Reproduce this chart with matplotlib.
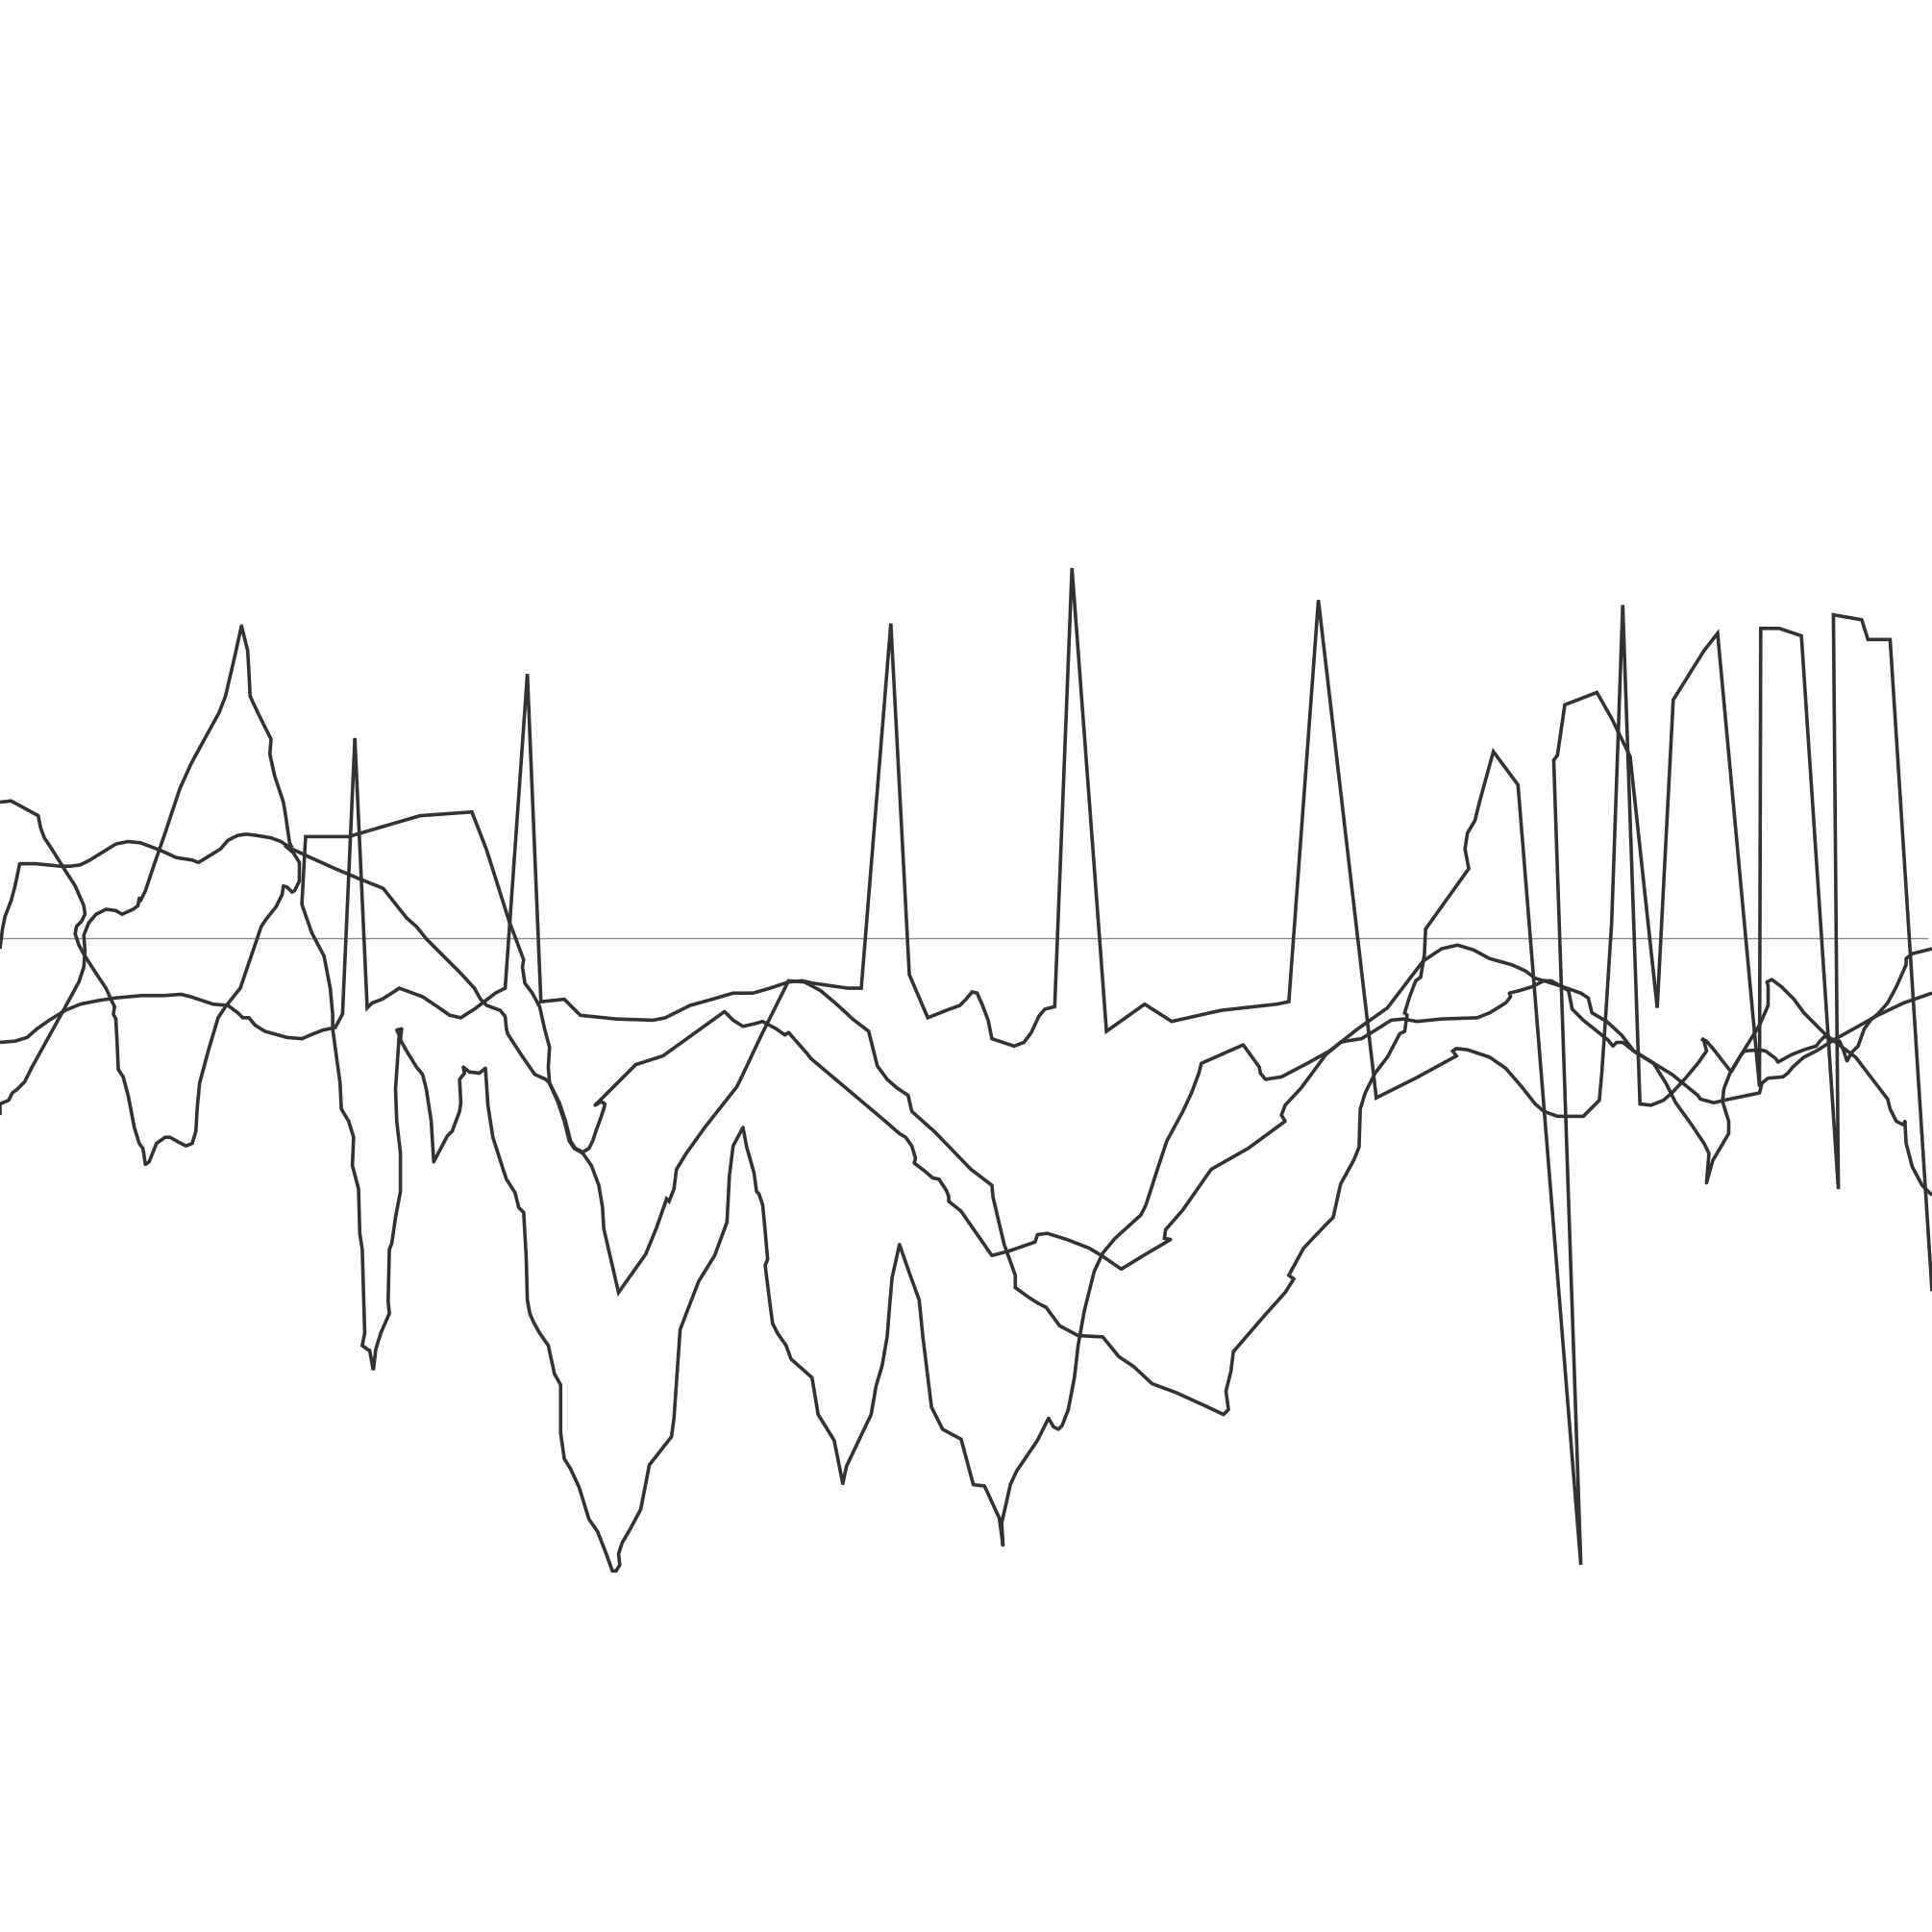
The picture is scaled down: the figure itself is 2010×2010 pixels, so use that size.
import numpy as np
import matplotlib.pyplot as plt

# series values: t = position along x, v = level above the baseline
p_t = [0, 12, 22, 30, 40, 53, 65, 80, 93, 115, 133, 147, 155, 173, 185, 193, 197, 202, 207, 215, 233, 245, 252, 262, 272, 278,
       288, 298, 302, 310, 318, 324, 335, 343, 355, 365, 374, 385, 393, 402, 410, 428, 439, 458, 471, 500, 530, 540, 548, 560,
       578, 595, 611, 625, 640, 651, 660, 688, 699, 723, 738, 753, 768, 779, 784, 789, 793, 797, 802, 805, 814, 823, 831, 837,
       843, 848, 856, 870, 898, 929, 951, 991, 1036, 1046, 1070, 1117, 1125, 1149, 1182, 1179, 1182, 1191, 1209, 1222, 1235,
       1246, 1253, 1264, 1285, 1298, 1300, 1303, 1308, 1317, 1331, 1340, 1350, 1357, 1368, 1378, 1385, 1383, 1381, 1385, 1391, 1405]
p_v = [-85, -84, -81, -74, -67, -59, -54, -51, -49, -47, -47, -46, -48, -54, -55, -61, -65, -65, -71, -76, -81, -82, -79, -75, -73, -62,
       162, -57, -53, -50, -45, -41, -45, -48, -56, -63, -65, -58, -52, -45, -41, 214, -52, -50, -63, -66, -67, -65, -61, -55,
       -50, -45, -45, -41, -36, -35, -37, -41, -41, 255, -30, -65, -59, -55, -50, -44, -45, -54, -67, -82, -85, -88, -85, -77,
       -64, -58, -56, 300, -76, -54, -68, -59, -54, -52, 274, -130, -126, -114, -96, -92, -90, -91, -97, -106, -121,
       -135, -141, -145, -145, -132, -110, -66, 12, 270, -135, -136, -132, -126, -114, -102, -92, -84, -82, -84, -91, -109]

a_t = [0, 9, 31, 33, 36, 42, 52, 61, 68, 69, 66, 62, 61, 64, 69, 78, 86, 91, 93, 92, 94, 95, 96, 100, 104, 109, 113, 116, 118,
       121, 127, 134, 138, 145, 151, 156, 159, 160, 162, 169, 177, 183, 195, 212, 216, 224, 229, 230, 233, 237, 239, 243, 243, 238, 231]
a_v = [110, 111, 99, 89, 81, 72, 56, 42, 26, 19, 13, 9, 3, -6, -15, -29, -41, -52, -56, -62, -66, -84, -107, -113, -128, -154, -167,
       -171, -184, -182, -167, -162, -162, -166, -169, -167, -157, -139, -118, -92, -65, -56, -41, 9, 15, 25, 35, 42, 41, 37, 38, 46, 61, 69, 75]

b_t = [0, 0, 7, 10, 14, 20, 26, 36, 52, 64, 68, 69, 68, 72, 78, 86, 94, 99, 108, 112, 113, 114, 118, 125, 133, 140, 146, 155, 167,
       178, 183, 190, 196, 201, 202, 203, 210, 220, 219, 223, 230, 232, 235, 237]
b_v = [-144, -135, -132, -126, -123, -117, -105, -87, -58, -36, -24, -11, 2, 12, 19, 23, 22, 19, 23, 26, 32, 30, 38, 59, 82, 103, 121,
       141, 163, 183, 196, 226, 253, 233, 216, 196, 181, 161, 149, 131, 110, 98, 77, 73]

c_t = [0, 1, 2, 4, 9, 12, 16, 29, 39, 49, 57, 65, 73, 86, 94, 104, 114, 130, 143, 156, 161, 166, 179, 185, 193, 200, 208, 220, 228,
       237, 252, 272, 291, 311, 330, 338, 346, 359, 374, 385, 390, 395, 406, 410, 411, 412, 423, 434, 443, 446, 454, 459, 463, 467,
       473, 478, 481, 484, 487, 490, 491, 488, 483, 516, 538, 588, 595, 603, 612, 619, 630, 637, 640, 655, 658, 715, 730, 735, 740,
       743, 742, 750, 757, 762, 768, 770, 770, 780, 805, 820, 840, 842, 850, 866, 884, 894, 910, 928, 950, 945, 946, 960, 983, 1013,
       1043, 1040, 1043, 1056, 1076, 1088, 1102, 1126, 1155, 1170, 1183, 1196, 1209, 1227, 1238, 1246, 1253, 1266, 1273, 1276, 1285,
       1305, 1309, 1312, 1317, 1326, 1339, 1357, 1378, 1380, 1391, 1399, 1428, 1430, 1435, 1447, 1451, 1455, 1464, 1474, 1482, 1490,
       1508, 1524, 1545, 1568]
c_v = [-9, -1, 7, 17, 30, 41, 60, 60, 59, 58, 58, 59, 63, 71, 76, 78, 77, 71, 65, 63, 61, 64, 72, 79, 83, 84, 83, 81, 78,
       72, 65, 56, 48, 40, 16, 9, -1, -14, -29, -41, -50, -55, -59, -64, -74, -78, -95, -111, -115, -118, -134, -149, -165, -171,
       -174, -171, -165, -156, -148, -139, -135, -133, -136, -103, -96, -60, -67, -72, -70, -68, -74, -79, -77, -94, -98, -146, -159, -162, -169,
       -179, -183, -189, -195, -196, -205, -210, -214, -222, -258, -254, -247, -241, -240, -245, -252, -258, -269, -258, -245, -244, -237, -221, -188, -171,
       -149, -144, -136, -122, -95, -85, -74, -57, -19, -9, -6, -10, -17, -22, -27, -33, -35, -39, -43, -58, -67,
       -83, -88, -85, -85, -92, -100, -111, -128, -131, -134, -132, -126, -118, -114, -113, -110, -105, -97, -92, -87, -82,
       -72, -63, -53, -45]

d_t = [303, 300, 298, 294, 296, 294, 292, 291, 286, 287, 283, 277, 276, 270, 270, 268, 263, 253, 245, 248, 283, 341, 383, 395, 413,
       425, 424, 426, 432, 438, 442, 446, 445, 446, 453, 458, 462, 466, 473, 480, 486, 489, 490, 502, 524, 533, 541, 543, 547, 549,
       557, 572, 598, 601, 618, 640, 653, 666, 679, 692, 705, 712, 720, 728, 737, 740, 759, 788, 805, 806, 815, 824, 824, 835, 843,
       849, 860, 875, 895, 908, 920, 935, 954, 976, 993, 997, 995, 999, 1001, 1026, 1043, 1050, 1046, 1058, 1075, 1082, 1088, 1099,
       1103, 1104, 1108, 1116, 1126, 1136, 1140, 1142, 1140, 1144, 1149, 1153, 1156, 1157, 1192, 1189, 1191, 1197, 1201, 1212, 1232,
       1283, 1261, 1264, 1270, 1296, 1308, 1323, 1345, 1358, 1383, 1394, 1428, 1429, 1444, 1462, 1492, 1488, 1511, 1516, 1534, 1568]
d_v = [-351, -335, -334, -331, -321, -253, -240, -204, -185, -162, -149, -139, -118, -74, -62, -41, -15, 4, 27, 82, 82, 99, 102, 71, 14,
       -18, -24, -37, -45, -56, -74, -89, -105, -118, -134, -149, -165, -171, -175, -185, -201, -219, -236, -288, -257, -235, -212, -214, -204, -188,
       -175, -154, -121, -115, -79, -35, -36, -43, -54, -66, -76, -104, -115, -122, -128, -141, -158, -188, -201, -211, -249, -274, -284, -292, -297,
       -300, -315, -323, -324, -340, -348, -362, -369, -379, -387, -383, -368, -352, -336, -307, -288, -277, -274, -252, -234, -227, -200, -180,
       -170, -139, -126, -110, -97, -78, -76, -63, -61, -48, -35, -32, -14, 7, 56, 72, 85, 95, 111, 151, 124,
       -509, 144, 148, 189, 199, 178, 147, -57, 193, 233, 247, -121, 251, 251, 245, -204, 262, 258, 242, 242, -287]

e_t = [303, 305, 309, 316, 315, 316, 318, 321, 325, 325, 322, 321, 324, 322, 326, 325, 330, 338, 343, 346, 350, 352, 363, 367, 373,
       374, 373, 377, 376, 381, 389, 394, 396, 400, 408, 411, 418, 421, 425, 426, 427, 428, 430, 433, 438, 445, 450, 455, 455, 458,
       463, 470, 478, 485, 492, 497, 500, 503, 502, 505, 512, 520, 527, 545, 547, 552, 567, 580, 590, 592, 595, 603, 606, 612, 614,
       616, 619, 621, 623, 621, 624, 627, 631, 638, 642, 659, 664, 677, 684, 687, 697, 707, 711, 716, 720, 722, 724, 730, 738, 746,
       749, 756, 765, 780, 790, 799, 811, 814, 813, 820, 825, 842, 851, 855, 859, 862, 867, 872, 875, 880, 888, 895, 905, 915, 926,
       930, 941, 947, 960, 967, 973, 975, 1009, 1022, 1023, 1027, 1040, 1061, 1079, 1088, 1092, 1105, 1118, 1129, 1139, 1150, 1170,
       1199, 1209, 1222, 1226, 1225, 1233, 1243, 1253, 1259, 1266, 1283, 1289, 1292, 1304, 1316, 1326, 1342, 1352, 1360, 1373, 1383,
       1387, 1385, 1390, 1403, 1403, 1398, 1399, 1404, 1415, 1428, 1435, 1435, 1434, 1438, 1446, 1456, 1464, 1482, 1498, 1506, 1532,
       1534, 1539, 1545, 1546, 1547, 1552, 1560, 1568]
e_v = [-351, -334, -321, -305, -295, -253, -248, -227, -206, -175, -149, -123, -79, -75, -74, -83, -92, -105, -111, -123, -149, -182, -161, -157, -141,
       -134, -115, -110, -105, -109, -110, -106, -136, -162, -187, -196, -207, -219, -223, -240, -258, -294, -305, -312, -321, -331, -354, -363, -402, -423,
       -431, -446, -472, -482, -500, -514, -514, -509, -500, -491, -479, -464, -428, -405, -390, -318, -279, -258, -231, -193, -169, -154, -170, -191, -206,
       -208, -217, -238, -261, -266, -290, -313, -321, -331, -342, -357, -387, -408, -443, -429, -408, -387, -364, -347, -324, -299, -276, -249, -272, -294,
       -324, -381, -399, -407, -444, -445, -471, -493, -475, -444, -433, -408, -390, -397, -399, -396, -383, -357, -331, -303, -271, -256, -244, -235, -225,
       -217, -183, -165, -141, -126, -110, -102, -87, -105, -110, -115, -113, -102, -92, -85, -84, -82, -74, -67, -66, -68, -66,
       -65, -61, -53, -48, -45, -43, -40, -35, -35, -39, -45, -49, -61, -68, -79, -92, -102, -118, -134, -152, -167,
       -175, -199, -181, -159, -149, -133, -123, -110, -92, -71, -55, -39, -36, -34, -40, -50, -61, -79, -91, -97, -131,
       -139, -149, -152, -149, -167, -186, -201, -209]

f_t = [1568, 1552, 1547, 1547, 1539, 1532, 1524, 1519, 1513, 1508, 1503, 1499, 1496, 1493, 1485, 1481, 1477, 1474, 1464, 1454,
       1443, 1441, 1433, 1428, 1416, 1413, 1405]
f_v = [-9, -13, -17, -22, -40, -53, -62, -66, -74, -88, -93, -100, -91, -84, -82, -80, -84, -88, -91, -95,
       -101, -98, -92, -91, -92, -95, -109]

# the two series with sharp spikes keep pointed corners, the others get round joins
series = [(p_t, p_v, "miter"), (a_t, a_v, "round"), (b_t, b_v, "round"), (c_t, c_v, "round"),
          (d_t, d_v, "miter"), (e_t, e_v, "round"), (f_t, f_v, "round")]

fig = plt.figure(figsize=(20.1, 20.1), dpi=100)
ax = fig.add_axes([0, 0, 1, 1])

ax.axhline(0, xmin=0, xmax=1564 / 1568, color="#8c8c8c", lw=1.0, zorder=1)
for t, v, join in series:
    ax.plot(np.array(t), np.array(v), color="#333333", lw=2.6,
            solid_joinstyle=join, solid_capstyle="butt", zorder=2)

ax.set_xlim(0, 1568)
ax.set_ylim(761 - 1568, 761)
ax.axis("off")
fig.savefig("out.png", dpi=100, facecolor="white")
